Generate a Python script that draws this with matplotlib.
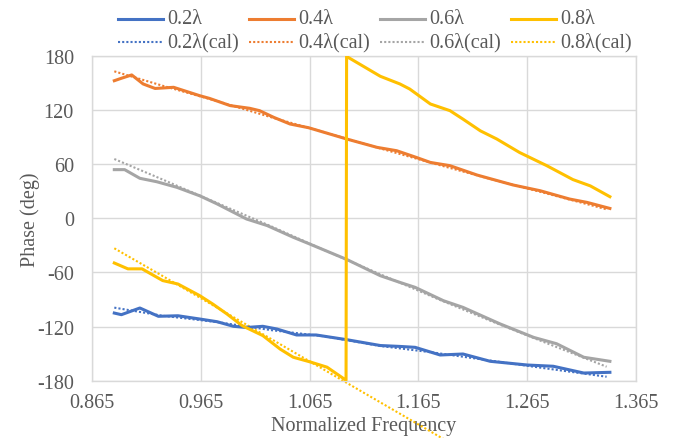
import numpy as np
import matplotlib.pyplot as plt
from matplotlib.lines import Line2D

plt.rcParams['font.family'] = ['Liberation Serif', 'DejaVu Serif']
plt.rcParams['axes.unicode_minus'] = False

x_02 = [0.8855, 0.892, 0.909, 0.926, 0.944, 0.964, 0.980, 0.995, 1.007, 1.022, 1.035,
        1.053, 1.071, 1.099, 1.130, 1.148, 1.162, 1.185, 1.206, 1.231, 1.265, 1.289,
        1.317, 1.341]
y_02 = [-105, -106.8, -99.4, -108.6, -108, -111.6, -114.6, -119.7, -121, -119.7, -122.7,
        -129.3, -129.3, -134.5, -141, -142, -143, -151.5, -150.4, -158.5, -162.6, -164,
        -171.5, -170.7]

x_04 = [0.8855, 0.892, 0.9015, 0.912, 0.923, 0.940, 0.964, 0.973, 0.992, 1.010, 1.019,
        1.032, 1.047, 1.064, 1.099, 1.127, 1.145, 1.163, 1.176, 1.194, 1.219, 1.252,
        1.277, 1.304, 1.320, 1.341]
y_04 = [152.6, 155.3, 159, 149, 144, 145.3, 136, 133, 125, 122, 119.4,
        112, 104.6, 100.5, 88, 78.7, 75, 67.6, 62, 58.4, 48, 37,
        30.6, 21.4, 17.7, 11]

x_06 = [0.8855, 0.895, 0.909, 0.9245, 0.943, 0.964, 0.980, 1.007, 1.026, 1.050, 1.065,
        1.099, 1.130, 1.148, 1.162, 1.188, 1.206, 1.240, 1.271, 1.292, 1.317, 1.341]
y_06 = [54, 54, 44.4, 40.6, 34.4, 25, 16, -0.7, -8, -21, -28.4,
        -45.5, -63.6, -71, -76.5, -91.3, -98.7, -117, -132, -139, -154, -158.5]

x_08 = [0.8855, 0.898, 0.911, 0.930, 0.944, 0.964, 0.976, 0.989, 1.003, 1.022, 1.038,
        1.050, 1.065, 1.081, 1.0985, 1.0990, 1.130, 1.148, 1.157, 1.176, 1.194, 1.206,
        1.222, 1.237, 1.258, 1.283, 1.307, 1.323, 1.341]
y_08 = [-49.5, -56, -56, -69, -72.8, -85.7, -95, -106, -119, -130, -145,
        -154, -159, -165, -179.5, 179.5, 157.5, 149, 143.4, 126.8, 119.4, 110,
        97, 88, 73, 58.4, 43, 36, 24]

# calculated phase (dotted)
xc = [0.8855, 0.93, 0.98, 1.03, 1.08, 1.13, 1.18, 1.23, 1.28, 1.338]
yc_02 = [-99, -108, -115, -124, -131, -141.5, -149, -157.5, -166, -175.6]
yc_04 = [163, 147, 130, 112, 95, 77.5, 60.5, 44, 28.5, 10]
yc_06 = [65.8, 43, 17, -9, -36, -62, -88, -113, -137, -164.5]
yc_08 = [-33.2, -64, -99, -134, -169, -204, -239, -274, -309, -350]

labels = ['0.2λ', '0.4λ', '0.6λ', '0.8λ']
colors = ['#4472C4', '#ED7D31', '#A5A5A5', '#FFC000']
fs = 14.5
txt = '#595959'
dots = (0, (1, 1))

W, H = 676, 439
fig = plt.figure(figsize=(W / 100, H / 100), dpi=100)
ax = fig.add_axes([92 / W, 1 - 381.7 / H, 544 / W, 324.7 / H])

solid = [(x_02, y_02), (x_04, y_04), (x_06, y_06), (x_08, y_08)]
cal = [yc_02, yc_04, yc_06, yc_08]

for i in range(4):
    ax.plot(solid[i][0], solid[i][1], color=colors[i], lw=2.2,
            solid_joinstyle='round', zorder=3)
    ax.plot(xc, cal[i], color=colors[i], lw=1.5, ls=dots, zorder=2,
            clip_on=(i != 3))

ax.set_xlim(0.865, 1.365)
ax.set_ylim(-180, 180)
ax.set_xticks(np.arange(0.865, 1.366, 0.1))
ax.set_xticklabels(['0.865', '0.965', '1.065', '1.165', '1.265', '1.365'])
ax.set_yticks(np.arange(-180, 181, 60))
ax.grid(True, color='#D9D9D9', lw=1)
ax.set_axisbelow(True)
for s in ax.spines.values():
    s.set_color('#D9D9D9')
    s.set_linewidth(1)
ax.tick_params(length=0, labelsize=fs, colors=txt)
ax.tick_params(axis='x', pad=9)
ax.tick_params(axis='y', pad=13)
ax.set_xlabel('Normalized Frequency', fontsize=fs, color=txt, labelpad=3)
ax.set_ylabel('Phase (deg)', fontsize=fs, color=txt, labelpad=-2)

# legend laid out like the Excel one: 4 columns, measured vs calculated rows
for i in range(4):
    x0 = 118 + 131 * i
    for row, (style, lw, suffix) in enumerate([('-', 2.2, ''), (dots, 1.5, '(cal)')]):
        yy = 1 - (20 + 23 * row) / H
        fig.add_artist(Line2D([x0 / W, (x0 + 45) / W], [yy, yy], color=colors[i],
                              lw=lw, ls=style))
        fig.text((x0 + 49) / W, yy, labels[i] + suffix, fontsize=fs, color=txt,
                 va='center', ha='left')

fig.savefig('out.png', dpi=100)
